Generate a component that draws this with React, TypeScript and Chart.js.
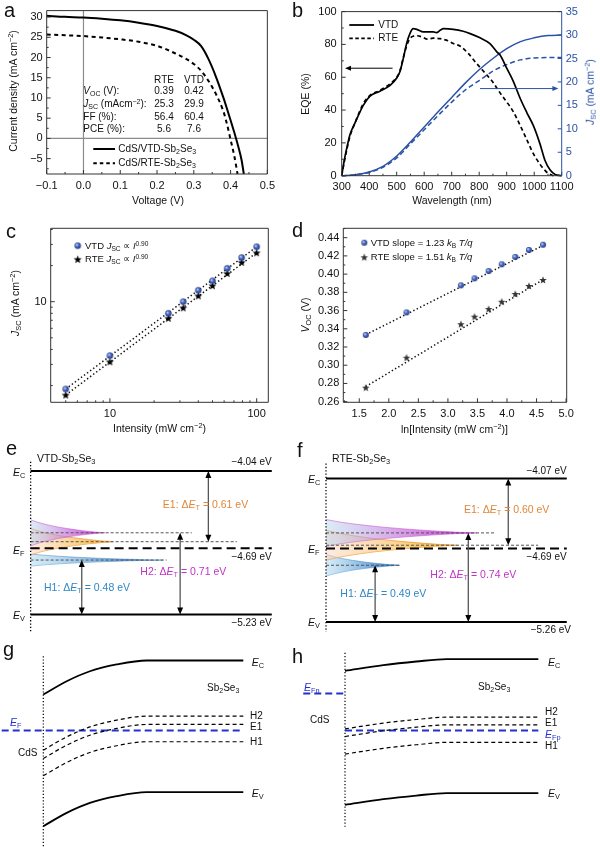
import React, { useEffect, useRef } from 'react';
import { Chart, registerables } from 'chart.js';

Chart.register(...registerables);

const FONT = '"Liberation Sans", Arial, Helvetica, sans-serif';
Chart.defaults.font.family = FONT;
Chart.defaults.color = '#111';

// ================= DATA =================
// ---- Panel a: J–V curves ----
const aTicksX = [-0.1, 0, 0.1, 0.2, 0.3, 0.4, 0.5];
const aMinorX = [-0.05, 0.05, 0.15, 0.25, 0.35, 0.45];
const aTicksY = [-5, 0, 5, 10, 15, 20, 25, 30];
const aMinorY = [-7.5, -2.5, 2.5, 7.5, 12.5, 17.5, 22.5, 27.5];
const aRangeX = [-0.1, 0.5];
const aRangeY = [-8.8, 31.6];
const aVoltVTD = [-0.1, -0.05, 0, 0.05, 0.1, 0.15, 0.2, 0.25, 0.28, 0.3, 0.32, 0.34, 0.36, 0.38, 0.39, 0.4, 0.41, 0.42, 0.43, 0.436];
const aJVTD = [30.3, 30.05, 29.9, 29.6, 29.2, 28.6, 27.8, 26.6, 25.5, 24.4, 22.8, 19.6, 15.3, 10.2, 7.4, 4.5, 1.5, -1.7, -5.4, -8.8];
const aVoltRTE = [-0.1, -0.05, 0, 0.05, 0.1, 0.15, 0.2, 0.25, 0.28, 0.3, 0.32, 0.34, 0.36, 0.38, 0.39, 0.4, 0.41, 0.419];
const aJRTE = [25.7, 25.5, 25.3, 24.95, 24.5, 23.9, 22.9, 21.0, 19.6, 18.4, 16.7, 14.2, 11.0, 6.8, 3.6, -0.3, -4.3, -8.8];

// ---- Panel b: EQE and integrated Jsc ----
const bTicksX = [300, 400, 500, 600, 700, 800, 900, 1000, 1100];
const bMinorX = [350, 450, 550, 650, 750, 850, 950, 1050];
const bTicksY = [0, 20, 40, 60, 80, 100];
const bMinorY = [10, 30, 50, 70, 90];
const bTicksY2 = [0, 5, 10, 15, 20, 25, 30, 35];
const bWlVTD = [300, 310, 320, 330, 348, 379, 403, 439, 476, 500, 512, 524, 536, 548, 560, 573, 597, 633, 645, 658, 670, 706, 742, 767, 803, 839, 864, 876, 900, 924, 948, 973, 997, 1021, 1039, 1058, 1076, 1100];
const bEqeVTD = [0, 10, 18, 25, 32, 43, 48.5, 51.5, 55, 59.5, 63.5, 71.5, 80.5, 86.6, 89.6, 89.2, 87.6, 87.6, 87.2, 88.6, 89.6, 89.2, 88, 86.6, 84, 80.5, 75.5, 73.5, 65.5, 57.5, 47.5, 38.5, 30.5, 19.4, 9.4, 3.4, 0.8, 0];
const bWlRTE = [300, 310, 320, 330, 348, 379, 403, 439, 476, 500, 512, 524, 536, 548, 560, 573, 597, 610, 633, 658, 690, 706, 730, 760, 790, 803, 827, 850, 864, 880, 900, 924, 948, 973, 997, 1021, 1033, 1050, 1070];
const bEqeRTE = [0, 9, 17, 24, 32, 44, 49, 52, 56, 60, 64, 72, 79, 83.5, 85, 85.3, 84.2, 83.2, 83.8, 83.5, 82, 80.5, 79, 74.5, 68.5, 66, 61.5, 57, 53.5, 49.5, 45, 39, 31, 22, 13.4, 7, 4.4, 1.5, 0];
const bWlJ = [300, 350, 400, 450, 500, 550, 600, 650, 700, 750, 800, 850, 900, 950, 1000, 1050, 1100];
const bJscVTD = [0, 0.2, 0.8, 2.0, 4.2, 7.2, 10.4, 13.6, 16.7, 19.8, 22.6, 25.0, 27.1, 28.6, 29.4, 29.9, 30.0];
const bJscRTE = [0, 0.2, 0.7, 1.8, 3.8, 6.8, 9.8, 12.8, 15.7, 18.3, 20.3, 22.3, 23.7, 24.7, 25.1, 25.2, 25.2];
const bArrowEQE = [485, 312, 65.5];   // x from, x to, EQE level
const bArrowJsc = [803, 1088, 53.1];  // x from, x to, level (EQE units)

// ---- Panel c: Jsc vs light intensity (log-log) ----
const intensity = [5, 10, 25, 31.6, 40, 50, 63, 79, 100];
const cJscVTD = [1.87, 3.55, 8.0, 10.0, 12.45, 14.9, 18.97, 23.3, 28.7];
const cJscRTE = [1.67, 3.16, 7.28, 8.9, 11.2, 13.6, 17.2, 21.3, 25.6];
const cFitI = [5, 100];
const cFitVTD = [1.87, 28.7];
const cFitRTE = [1.67, 25.6];
const cTicksX = [10, 100];
const cMinorX = [5, 6, 7, 8, 9, 20, 30, 40, 50, 60, 70, 80, 90];
const cTicksY = [10];
const cMinorY = [2, 3, 4, 5, 6, 7, 8, 9, 20, 30, 40];

// ---- Panel d: Voc vs ln(intensity) ----
const lnI = [1.61, 2.3, 3.22, 3.45, 3.69, 3.91, 4.14, 4.37, 4.61];
const dVocVTD = [0.3332, 0.358, 0.3877, 0.3954, 0.4034, 0.4108, 0.4188, 0.4265, 0.4323];
const dVocRTE = [0.2754, 0.3083, 0.345, 0.3533, 0.3617, 0.3697, 0.3782, 0.387, 0.3936];
const dFitX = [1.61, 4.61];
const dFitVTD = [0.3335, 0.4315];
const dFitRTE = [0.2765, 0.394];
const dTicksX = [1.5, 2.0, 2.5, 3.0, 3.5, 4.0, 4.5, 5.0];
const dMinorX = [1.25, 1.75, 2.25, 2.75, 3.25, 3.75, 4.25, 4.75];
const dTicksY = [0.26, 0.28, 0.3, 0.32, 0.34, 0.36, 0.38, 0.4, 0.42, 0.44];
const dMinorY = [0.27, 0.29, 0.31, 0.33, 0.35, 0.37, 0.39, 0.41, 0.43, 0.45];

// ---- Panels e / f: trap levels (eV) ----
// bands: [E_C, E_F, E_V]; traps: [H2, E1, H1]
const eBands = [-4.04, -4.682, -5.23];
const fBands = [-4.07, -4.65, -5.26];
const eTraps = [-4.553, -4.627, -4.779];
const fTraps = [-4.521, -4.623, -4.789];
const eTrapEnd = [0.668, 0.855, 0.564];
const fTrapEnd = [0.702, 0.881, 0.307];
const eShapeLen = [0.308, 0.342, 0.55];
const fShapeLen = [0.626, 0.543, 0.307];
const eShapeW = [0.108, 0.11, 0.05];
const fShapeW = [0.111, 0.124, 0.09];
const eArrowX = [0.62, 0.737, 0.212];
const fArrowX = [0.591, 0.757, 0.204];
const eDotted = [-3.964, -5.384];
const fDotted = [-3.946, -5.342];
const shapeT = [0, 0.1, 0.22, 0.36, 0.52, 0.7, 0.86, 1];
const shapeP = [1, 0.8, 0.62, 0.45, 0.3, 0.16, 0.06, 0];
const efRangeE = [-5.45, -3.9];
const eRangeX = [-0.127, 1.117];
const fRangeX = [-0.108, 1.138];

// ---- Panels g / h: band bending (eV) ----
// levels: [E_C, H2, E1, H1, E_V]
const gLevels = [-4.04, -4.543, -4.618, -4.774, -5.23];
const hLevels = [-4.07, -4.585, -4.653, -4.809, -5.26];
const gEF = -4.672;
const gEFx = [-0.208, 1.0];
const hEFn = -4.375;
const hEFnX = [-0.216, 0];
const hEFp = -4.703;
const hEFpX = [0, 1.0];
const gBendX = [0, 0.117, 0.233, 0.367, 0.517, 1];
const gBend = [-0.307, -0.187, -0.097, -0.036, 0, 0];
const hBendX = [0, 0.198, 0.369, 0.526, 1];
const hBend = [-0.104, -0.053, -0.021, 0, 0];
const gDotted = [-4.001, -5.725];
const hDotted = [-4.014, -5.568];
const gRangeX = [-0.2165, 1.2835];
const gRangeE = [-5.725, -3.9];
const hRangeX = [-0.2328, 1.319];
const hRangeE = [-5.738, -3.9];

// ================= HELPERS =================
const zip = (xs: number[], ys: number[]) => xs.map((x, i) => ({ x, y: ys[i] }));

function line(pts: any[], color: string, width: number, dash: number[] = [], extra: any = {}) {
  return { data: pts, borderColor: color, backgroundColor: color, borderWidth: width, borderDash: dash, pointRadius: 0, fill: false, tension: 0, clip: false, ...extra };
}

const fmtMinus = (d: number) => (v: number) => (v < 0 ? '\u2212' : '') + Math.abs(v).toFixed(d);

function axis(o: any) {
  const horiz = o.pos === 'top' || o.pos === 'bottom';
  return {
    type: o.type || 'linear',
    position: o.pos,
    min: o.min,
    max: o.max,
    grid: { display: false, drawTicks: false },
    border: { display: false },
    ticks: {
      autoSkip: false, maxRotation: 0, minRotation: 0, padding: o.pad,
      color: o.color || '#111', font: { size: 11, family: FONT },
      callback: (v: number) => o.fmt(v),
    },
    afterBuildTicks: (s: any) => { s.ticks = o.ticks.map((v: number) => ({ value: v })); },
    afterFit: (s: any) => { if (horiz) s.height = o.size; else s.width = o.size; },
  };
}

function baseOpts(padding: any, scales: any) {
  return {
    responsive: false, maintainAspectRatio: false, animation: false, devicePixelRatio: 1, events: [],
    layout: { padding, autoPadding: false },
    plugins: { legend: { display: false }, tooltip: { enabled: false }, title: { display: false } },
    scales,
  };
}

function framePlugin(sides: any, ticks: any[]) {
  return {
    id: 'frame',
    afterDatasetsDraw(chart: any) {
      const { ctx, chartArea: a } = chart;
      ctx.save();
      ctx.lineWidth = 1;
      ctx.setLineDash([]);
      const seg = (x1: number, y1: number, x2: number, y2: number, c: string) => {
        ctx.strokeStyle = c; ctx.beginPath(); ctx.moveTo(x1, y1); ctx.lineTo(x2, y2); ctx.stroke();
      };
      for (const t of ticks) {
        const sc = chart.scales[t.ax];
        for (const v of t.v) {
          const p = sc.getPixelForValue(v);
          const c = t.color || '#333';
          if (t.side === 'b') seg(p, a.bottom, p, a.bottom - t.len, c);
          else if (t.side === 'l') seg(a.left, p, a.left + t.len, p, c);
          else seg(a.right, p, a.right - t.len, p, c);
        }
      }
      seg(a.left, a.top, a.right, a.top, sides.t);
      seg(a.left, a.bottom, a.right, a.bottom, sides.b);
      seg(a.left, a.top, a.left, a.bottom, sides.l);
      seg(a.right, a.top, a.right, a.bottom, sides.r);
      ctx.restore();
    },
  };
}

function drawArrow(ctx: any, x1: number, y1: number, x2: number, y2: number, o: any) {
  const ang = Math.atan2(y2 - y1, x2 - x1);
  const c = Math.cos(ang), s = Math.sin(ang);
  const hl = o.hl, hw = o.hw;
  ctx.save();
  ctx.setLineDash([]);
  ctx.strokeStyle = o.color; ctx.lineWidth = o.width;
  ctx.beginPath();
  ctx.moveTo(o.both ? x1 + c * hl * 0.8 : x1, o.both ? y1 + s * hl * 0.8 : y1);
  ctx.lineTo(x2 - c * hl * 0.8, y2 - s * hl * 0.8);
  ctx.stroke();
  ctx.fillStyle = o.head || o.color;
  const head = (x: number, y: number, cx: number, sx: number) => {
    ctx.beginPath();
    ctx.moveTo(x, y);
    ctx.lineTo(x - cx * hl - sx * hw, y - sx * hl + cx * hw);
    ctx.lineTo(x - cx * hl + sx * hw, y - sx * hl - cx * hw);
    ctx.closePath(); ctx.fill();
  };
  head(x2, y2, c, s);
  if (o.both) head(x1, y1, -c, -s);
  ctx.restore();
}

function marksPlugin(spec: any) {
  return {
    id: 'marks',
    afterDatasetsDraw(chart: any) {
      const ctx = chart.ctx;
      const xs = chart.scales.x, ys = chart.scales.y;
      for (const a of spec.arrows || []) {
        drawArrow(ctx, xs.getPixelForValue(a.x1), ys.getPixelForValue(a.y1), xs.getPixelForValue(a.x2), ys.getPixelForValue(a.y2), a);
      }
      for (const s of spec.segs || []) {
        ctx.save(); ctx.strokeStyle = s.color; ctx.lineWidth = s.width; ctx.setLineDash(s.dash || []);
        ctx.beginPath(); ctx.moveTo(s.x1, s.y); ctx.lineTo(s.x2, s.y); ctx.stroke(); ctx.restore();
      }
      for (const im of spec.imgs || []) ctx.drawImage(im.img, im.x - im.img.width / 2, im.y - im.img.height / 2);
    },
  };
}

function makeSphere(r: number) {
  const c = document.createElement('canvas');
  const s = Math.ceil(2 * r + 2);
  c.width = s; c.height = s;
  const g = c.getContext('2d')!;
  const cx = s / 2, cy = s / 2;
  const grad = g.createRadialGradient(cx - r * 0.35, cy - r * 0.35, r * 0.1, cx, cy, r);
  grad.addColorStop(0, '#c4d2f4');
  grad.addColorStop(0.45, '#4d6ec4');
  grad.addColorStop(1, '#1f3584');
  g.fillStyle = grad;
  g.beginPath(); g.arc(cx, cy, r, 0, Math.PI * 2); g.fill();
  return c;
}

function makeStar(R: number, color: string) {
  const c = document.createElement('canvas');
  const s = Math.ceil(2 * R + 2);
  c.width = s; c.height = s;
  const g = c.getContext('2d')!;
  const cx = s / 2, cy = s / 2 + R * 0.08;
  g.fillStyle = color;
  g.beginPath();
  for (let i = 0; i < 10; i++) {
    const rr = i % 2 === 0 ? R : R * 0.42;
    const a = -Math.PI / 2 + (i * Math.PI) / 5;
    const px = cx + rr * Math.cos(a), py = cy + rr * Math.sin(a);
    if (i === 0) g.moveTo(px, py); else g.lineTo(px, py);
  }
  g.closePath(); g.fill();
  return c;
}

// ================= CHART CONFIGS =================
function makeA() {
  return {
    type: 'line',
    data: {
      datasets: [
        line(zip(aVoltVTD, aJVTD), '#000', 2, [], { cubicInterpolationMode: 'monotone' }),
        line(zip(aVoltRTE, aJRTE), '#000', 2, [4, 3.5], { cubicInterpolationMode: 'monotone' }),
        line([{ x: 0, y: aRangeY[0] }, { x: 0, y: aRangeY[1] }], '#8c8c8c', 1.2),
        line([{ x: aRangeX[0], y: 0 }, { x: aRangeX[1], y: 0 }], '#8c8c8c', 1.2),
      ],
    },
    options: baseOpts({ top: 7.3, right: 11.7, bottom: 0, left: 0 }, {
      x: axis({ pos: 'bottom', min: aRangeX[0], max: aRangeX[1], ticks: aTicksX, size: 36, pad: 5, fmt: fmtMinus(1) }),
      y: axis({ pos: 'left', min: aRangeY[0], max: aRangeY[1], ticks: aTicksY, size: 46.7, pad: 4, fmt: fmtMinus(0) }),
    }),
    plugins: [
      framePlugin({ t: '#333', r: '#333', b: '#333', l: '#333' }, [
        { ax: 'x', side: 'b', v: aTicksX, len: 4 }, { ax: 'x', side: 'b', v: aMinorX, len: 2 },
        { ax: 'y', side: 'l', v: aTicksY, len: 4 }, { ax: 'y', side: 'l', v: aMinorY, len: 2 },
      ]),
      marksPlugin({
        segs: [
          { x1: 93.3, x2: 115, y: 149, color: '#000', width: 2 },
          { x1: 93.3, x2: 115, y: 163.3, color: '#000', width: 2, dash: [3.5, 3] },
        ],
      }),
    ],
  };
}

const BLUE = '#2a52a6';

function makeB() {
  return {
    type: 'line',
    data: {
      datasets: [
        line(zip(bWlVTD, bEqeVTD), '#000', 1.7, [], { cubicInterpolationMode: 'monotone' }),
        line(zip(bWlRTE, bEqeRTE), '#000', 1.7, [4, 3], { cubicInterpolationMode: 'monotone' }),
        line(zip(bWlJ, bJscVTD), BLUE, 1.5, [], { yAxisID: 'y1', cubicInterpolationMode: 'monotone' }),
        line(zip(bWlJ, bJscRTE), BLUE, 1.5, [5, 3], { yAxisID: 'y1', cubicInterpolationMode: 'monotone' }),
      ],
    },
    options: baseOpts({ top: 9.3, right: 0, bottom: 0, left: 0 }, {
      x: axis({ pos: 'bottom', min: 300, max: 1100, ticks: bTicksX, size: 34.3, pad: 5, fmt: (v: number) => String(v) }),
      y: axis({ pos: 'left', min: 0, max: 100, ticks: bTicksY, size: 41.7, pad: 5, fmt: (v: number) => String(v) }),
      y1: axis({ pos: 'right', min: 0, max: 35, ticks: bTicksY2, size: 38.3, pad: 4, fmt: (v: number) => String(v), color: BLUE }),
    }),
    plugins: [
      framePlugin({ t: '#333', r: BLUE, b: '#333', l: '#333' }, [
        { ax: 'x', side: 'b', v: bTicksX, len: 4 }, { ax: 'x', side: 'b', v: bMinorX, len: 2 },
        { ax: 'y', side: 'l', v: bTicksY, len: 4 }, { ax: 'y', side: 'l', v: bMinorY, len: 2 },
        { ax: 'y1', side: 'r', v: bTicksY2, len: 4, color: BLUE },
      ]),
      marksPlugin({
        arrows: [
          { x1: bArrowEQE[0], y1: bArrowEQE[2], x2: bArrowEQE[1], y2: bArrowEQE[2], color: '#000', width: 1, hl: 6, hw: 2.5 },
          { x1: bArrowJsc[0], y1: bArrowJsc[2], x2: bArrowJsc[1], y2: bArrowJsc[2], color: BLUE, width: 1, hl: 6, hw: 2.5 },
        ],
        segs: [
          { x1: 49.3, x2: 74, y: 25, color: '#000', width: 1.8 },
          { x1: 49.3, x2: 74, y: 38.3, color: '#000', width: 1.8, dash: [3.5, 2.5] },
        ],
      }),
    ],
  };
}

function makeC() {
  const sphere = makeSphere(3.2);
  const star = makeStar(4.3, '#000');
  return {
    type: 'line',
    data: {
      datasets: [
        { data: zip(intensity, cJscVTD), showLine: false, pointStyle: sphere, pointRadius: 4, borderWidth: 0 },
        { data: zip(intensity, cJscRTE), showLine: false, pointStyle: star, pointRadius: 4, borderWidth: 0 },
        line(zip(cFitI, cFitVTD), '#111', 1.5, [1.4, 2.4]),
        line(zip(cFitI, cFitRTE), '#111', 1.5, [1.4, 2.4]),
      ],
    },
    options: baseOpts({ top: 18.3, right: 31.7, bottom: 0, left: 0 }, {
      x: axis({ type: 'logarithmic', pos: 'bottom', min: 3.95, max: 120, ticks: cTicksX, size: 37.7, pad: 5, fmt: (v: number) => String(v) }),
      y: axis({ type: 'logarithmic', pos: 'left', min: 1.45, max: 40.9, ticks: cTicksY, size: 50.7, pad: 4, fmt: (v: number) => String(v) }),
    }),
    plugins: [
      framePlugin({ t: '#333', r: '#333', b: '#333', l: '#333' }, [
        { ax: 'x', side: 'b', v: cTicksX, len: 4 }, { ax: 'x', side: 'b', v: cMinorX, len: 2 },
        { ax: 'y', side: 'l', v: cTicksY, len: 4 }, { ax: 'y', side: 'l', v: cMinorY, len: 2 },
      ]),
      marksPlugin({ imgs: [{ img: sphere, x: 77.7, y: 35.7 }, { img: star, x: 77.7, y: 49.3 }] }),
    ],
  };
}

function makeD() {
  const sphere = makeSphere(3);
  const star = makeStar(4, '#333');
  return {
    type: 'line',
    data: {
      datasets: [
        { data: zip(lnI, dVocVTD), showLine: false, pointStyle: sphere, pointRadius: 4, borderWidth: 0 },
        { data: zip(lnI, dVocRTE), showLine: false, pointStyle: star, pointRadius: 4, borderWidth: 0 },
        line(zip(dFitX, dFitVTD), '#111', 1.5, [1.4, 2.4]),
        line(zip(dFitX, dFitRTE), '#111', 1.5, [1.4, 2.4]),
      ],
    },
    options: baseOpts({ top: 18.3, right: 33.3, bottom: 0, left: 0 }, {
      x: axis({ pos: 'bottom', min: 1.23, max: 5.01, ticks: dTicksX, size: 37.7, pad: 5, fmt: (v: number) => v.toFixed(1) }),
      y: axis({ pos: 'left', min: 0.2593, max: 0.4503, ticks: dTicksY, size: 43.3, pad: 4, fmt: (v: number) => v.toFixed(2) }),
    }),
    plugins: [
      framePlugin({ t: '#333', r: '#333', b: '#333', l: '#333' }, [
        { ax: 'x', side: 'b', v: dTicksX, len: 4 }, { ax: 'x', side: 'b', v: dMinorX, len: 2 },
        { ax: 'y', side: 'l', v: dTicksY, len: 4 }, { ax: 'y', side: 'l', v: dMinorY, len: 2 },
      ]),
      marksPlugin({ imgs: [{ img: sphere, x: 64.3, y: 32.7 }, { img: star, x: 64.3, y: 47.3 }] }),
    ],
  };
}

function diagConfig(rx: number[], re: number[], datasets: any[], plugins: any[]) {
  return {
    type: 'line',
    data: { datasets },
    options: baseOpts({ top: 0, right: 0, bottom: 0, left: 0 }, {
      x: { type: 'linear', display: false, min: rx[0], max: rx[1] },
      y: { type: 'linear', display: false, min: re[0], max: re[1] },
    }),
    plugins,
  };
}

// trap shape colours: [H2 magenta, E1 orange, H1 blue] -> [left, middle, tip, edge]
const shapeCols = [
  ['rgba(175,212,236,0.45)', 'rgba(196,120,220,0.65)', 'rgba(200,40,212,0.97)', 'rgba(190,60,200,0.6)'],
  ['rgba(252,212,190,0.5)', 'rgba(250,200,120,0.7)', 'rgba(246,180,30,0.97)', 'rgba(240,150,50,0.95)'],
  ['rgba(180,220,242,0.55)', 'rgba(110,170,220,0.75)', 'rgba(25,100,185,0.97)', 'rgba(60,130,200,0.6)'],
];

function shapeDs(center: number, w0: number, len: number, cols: string[]) {
  const up = shapeT.map((t, i) => ({ x: t * len, y: center + w0 * shapeP[i] }));
  const lo = shapeT.map((t, i) => ({ x: t * len, y: center - w0 * shapeP[i] }));
  const bg = (ctx: any) => {
    const ch = ctx.chart;
    if (!ch.chartArea) return cols[1];
    const xs = ch.scales.x;
    const g = ch.ctx.createLinearGradient(xs.getPixelForValue(0), 0, xs.getPixelForValue(len), 0);
    g.addColorStop(0, cols[0]);
    g.addColorStop(0.45, cols[1]);
    g.addColorStop(1, cols[2]);
    return g;
  };
  return [
    { data: up, fill: '+1', backgroundColor: bg, borderColor: cols[3], borderWidth: 0.8, pointRadius: 0, cubicInterpolationMode: 'monotone', clip: false },
    { data: lo, fill: false, borderColor: cols[3], borderWidth: 0.8, pointRadius: 0, cubicInterpolationMode: 'monotone', clip: false },
  ];
}

function makeTrap(bands: number[], traps: number[], trapEnd: number[], shapeLen: number[], shapeW: number[], arrowX: number[], dotted: number[], rx: number[]) {
  const ds: any[] = [
    line([{ x: 0, y: bands[0] }, { x: 1, y: bands[0] }], '#000', 2),
    line([{ x: 0, y: bands[1] }, { x: 1, y: bands[1] }], '#000', 2, [9, 5]),
    line([{ x: 0, y: bands[2] }, { x: 1, y: bands[2] }], '#000', 2),
    line([{ x: 0, y: dotted[0] }, { x: 0, y: dotted[1] }], '#000', 1.3, [1.3, 2]),
  ];
  traps.forEach((t, i) => ds.push(line([{ x: 0, y: t }, { x: trapEnd[i], y: t }], '#555', 1, [3, 2])));
  traps.forEach((t, i) => ds.push(...shapeDs(t, shapeW[i], shapeLen[i], shapeCols[i])));
  const arr = { color: '#555', head: '#000', width: 1.3, hl: 7, hw: 3, both: true };
  return diagConfig(rx, efRangeE, ds, [
    marksPlugin({
      arrows: [
        { ...arr, x1: arrowX[0], y1: traps[0], x2: arrowX[0], y2: bands[2] },
        { ...arr, x1: arrowX[1], y1: bands[0], x2: arrowX[1], y2: traps[1] },
        { ...arr, x1: arrowX[2], y1: traps[2], x2: arrowX[2], y2: bands[2] },
      ],
    }),
  ]);
}

const EFBLUE = '#2430d0';

function makeBand(levels: number[], bendX: number[], bend: number[], dotted: number[], blues: any[], rx: number[], re: number[]) {
  const ds: any[] = [];
  levels.forEach((lv, i) => {
    const solid = i === 0 || i === levels.length - 1;
    ds.push(line(bendX.map((x, j) => ({ x, y: lv + bend[j] })), '#000', solid ? 1.8 : 1.2, solid ? [] : [4, 3], { cubicInterpolationMode: 'monotone' }));
  });
  blues.forEach((b) => ds.push(line([{ x: b.x[0], y: b.y }, { x: b.x[1], y: b.y }], EFBLUE, 2, [7, 4])));
  ds.push(line([{ x: 0, y: dotted[0] }, { x: 0, y: dotted[1] }], '#000', 1.2, [1.2, 2]));
  return diagConfig(rx, re, ds, []);
}

// ================= COMPONENTS =================
function ChartCanvas({ x, y, w, h, make }: { x: number; y: number; w: number; h: number; make: () => any }) {
  const ref = useRef<HTMLCanvasElement>(null);
  useEffect(() => {
    const ch = new Chart(ref.current as HTMLCanvasElement, make());
    return () => ch.destroy();
  }, []);
  return <canvas ref={ref} width={w} height={h} style={{ position: 'absolute', left: x, top: y, width: w, height: h }} />;
}

function T({ x, y, a = 'l', r = false, s = 10.5, c = '#111', children }: any) {
  const tx = a === 'l' ? '0' : a === 'c' ? '-50%' : '-100%';
  return (
    <div style={{
      position: 'absolute', left: x, top: y, whiteSpace: 'nowrap', lineHeight: 1, fontSize: s, color: c,
      transform: r ? 'translate(-50%,-50%) rotate(-90deg)' : `translate(${tx},-50%)`,
    }}>{children}</div>
  );
}
const Sb = ({ children }: any) => <span style={{ fontSize: '0.7em', verticalAlign: '-0.3em', lineHeight: 0 }}>{children}</span>;
const Sp = ({ children }: any) => <span style={{ fontSize: '0.7em', verticalAlign: '0.5em', lineHeight: 0 }}>{children}</span>;
const I = ({ children }: any) => <i>{children}</i>;
const Letter = ({ x, base, ch }: any) => (
  <div style={{ position: 'absolute', left: x, top: base - 0.8465 * 20, fontSize: 20, lineHeight: '20px' }}>{ch}</div>
);
const SbSe = () => <>Sb<Sb>2</Sb>Se<Sb>3</Sb></>;
const unit = <>(mA cm<Sp>−2</Sp>)</>;

export default function App() {
  useEffect(() => { document.body.style.margin = '0'; }, []);
  return (
    <div style={{ position: 'absolute', left: 0, top: 0, width: 600, height: 847, background: '#fff', fontFamily: FONT, color: '#111', overflow: 'hidden' }}>
      <ChartCanvas x={0} y={0} w={280} h={210} make={makeA} />
      <ChartCanvas x={300} y={0} w={300} h={210} make={makeB} />
      <ChartCanvas x={0} y={210} w={300} h={230} make={makeC} />
      <ChartCanvas x={300} y={210} w={300} h={230} make={makeD} />
      <ChartCanvas x={0} y={454} w={300} h={187} make={() => makeTrap(eBands, eTraps, eTrapEnd, eShapeLen, eShapeW, eArrowX, eDotted, eRangeX)} />
      <ChartCanvas x={300} y={458} w={300} h={187} make={() => makeTrap(fBands, fTraps, fTrapEnd, fShapeLen, fShapeW, fArrowX, fDotted, fRangeX)} />
      <ChartCanvas x={0} y={645} w={300} h={202} make={() => makeBand(gLevels, gBendX, gBend, gDotted, [{ x: gEFx, y: gEF }], gRangeX, gRangeE)} />
      <ChartCanvas x={300} y={640} w={300} h={207} make={() => makeBand(hLevels, hBendX, hBend, hDotted, [{ x: hEFnX, y: hEFn }, { x: hEFpX, y: hEFp }], hRangeX, hRangeE)} />

      {/* panel letters */}
      <Letter x={4} base={17} ch="a" />
      <Letter x={292} base={17} ch="b" />
      <Letter x={6} base={238} ch="c" />
      <Letter x={292} base={237} ch="d" />
      <Letter x={6} base={455} ch="e" />
      <Letter x={297} base={457} ch="f" />
      <Letter x={3} base={656} ch="g" />
      <Letter x={292} base={663} ch="h" />

      {/* panel a */}
      <T x={13} y={91} r>Current density {unit}</T>
      <T x={158} y={199.5} a="c">Voltage (V)</T>
      <T x={164} y={80} a="c" s={10}>RTE</T>
      <T x={194} y={80} a="c" s={10}>VTD</T>
      <T x={83.3} y={91} s={10}><I>V</I><Sb>OC</Sb> (V):</T>
      <T x={83.3} y={104} s={10}><I>J</I><Sb>SC</Sb> (mAcm<Sp>−2</Sp>):</T>
      <T x={83.3} y={116.5} s={10}>FF (%):</T>
      <T x={83.3} y={128.5} s={10}>PCE (%):</T>
      <T x={164} y={91} a="c" s={10}>0.39</T>
      <T x={194} y={91} a="c" s={10}>0.42</T>
      <T x={164} y={104} a="c" s={10}>25.3</T>
      <T x={194} y={104} a="c" s={10}>29.9</T>
      <T x={164} y={116.5} a="c" s={10}>56.4</T>
      <T x={194} y={116.5} a="c" s={10}>60.4</T>
      <T x={164} y={128.5} a="c" s={10}>5.6</T>
      <T x={194} y={128.5} a="c" s={10}>7.6</T>
      <T x={118.3} y={149} s={10}>CdS/VTD-<SbSe /></T>
      <T x={118.3} y={163.3} s={10}>CdS/RTE-<SbSe /></T>

      {/* panel b */}
      <T x={305} y={94} r>EQE (%)</T>
      <T x={452} y={200} a="c">Wavelength (nm)</T>
      <T x={590} y={92} r c={BLUE}><I>J</I><Sb>SC</Sb> {unit}</T>
      <T x={378.3} y={25} s={10}>VTD</T>
      <T x={378.3} y={38.3} s={10}>RTE</T>

      {/* panel c */}
      <T x={15} y={303} r><I>J</I><Sb>SC</Sb> {unit}</T>
      <T x={159.5} y={428.3} a="c">Intensity (mW cm<Sp>−2</Sp>)</T>
      <T x={85} y={245.7} s={9.5}>VTD <I>J</I><Sb>SC</Sb> ∝ <I>I</I><Sp>0.90</Sp></T>
      <T x={85} y={259.3} s={9.5}>RTE <I>J</I><Sb>SC</Sb> ∝ <I>I</I><Sp>0.90</Sp></T>

      {/* panel d */}
      <T x={305} y={315} r><I>V</I><Sb>OC</Sb> (V)</T>
      <T x={454.5} y={429.3} a="c">ln[Intensity (mW cm<Sp>−2</Sp>)]</T>
      <T x={370.7} y={242.7} s={9.5}>VTD slope = 1.23 <I>k</I><Sb>B</Sb> <I>T/q</I></T>
      <T x={370.7} y={257.3} s={9.5}>RTE slope = 1.51 <I>k</I><Sb>B</Sb> <I>T/q</I></T>

      {/* panel e */}
      <T x={37} y={458}>VTD-<SbSe /></T>
      <T x={13} y={471.5}><I>E</I><Sb>C</Sb></T>
      <T x={13} y={550}><I>E</I><Sb>F</Sb></T>
      <T x={13} y={614.5}><I>E</I><Sb>V</Sb></T>
      <T x={271.7} y={462} a="r" s={10}>−4.04 eV</T>
      <T x={271.7} y={556.7} a="r" s={10}>−4.69 eV</T>
      <T x={271.7} y={623.3} a="r" s={10}>−5.23 eV</T>
      <T x={205.5} y={504} a="c" c="#e0873a">E1: Δ<I>E</I><Sb>T</Sb> = 0.61 eV</T>
      <T x={183.3} y={570.7} a="c" c="#c232c4">H2: Δ<I>E</I><Sb>T</Sb> = 0.71 eV</T>
      <T x={87} y={587} a="c" c="#2f86c6">H1: Δ<I>E</I><Sb>T</Sb> = 0.48 eV</T>

      {/* panel f */}
      <T x={332} y={458}>RTE-<SbSe /></T>
      <T x={308} y={478.5}><I>E</I><Sb>C</Sb></T>
      <T x={308} y={548.5}><I>E</I><Sb>F</Sb></T>
      <T x={308} y={622}><I>E</I><Sb>V</Sb></T>
      <T x={566.7} y={471} a="r" s={10}>−4.07 eV</T>
      <T x={566.7} y={556.7} a="r" s={10}>−4.69 eV</T>
      <T x={571} y={630} a="r" s={10}>−5.26 eV</T>
      <T x={506.7} y={509} a="c" c="#e0873a">E1: Δ<I>E</I><Sb>T</Sb> = 0.60 eV</T>
      <T x={473.3} y={574} a="c" c="#c232c4">H2: Δ<I>E</I><Sb>T</Sb> = 0.74 eV</T>
      <T x={383.3} y={592.7} a="c" c="#2f86c6">H1: Δ<I>E</I><Sb>T</Sb> = 0.49 eV</T>

      {/* panel g */}
      <T x={251.7} y={661.7}><I>E</I><Sb>C</Sb></T>
      <T x={207} y={687.7} s={10}><SbSe /></T>
      <T x={250} y={715.5} s={10}>H2</T>
      <T x={250} y={726.5} s={10}>E1</T>
      <T x={250} y={742} s={10}>H1</T>
      <T x={251.7} y={793}><I>E</I><Sb>V</Sb></T>
      <T x={10} y={721.7} c={EFBLUE}><I>E</I><Sb>F</Sb></T>
      <T x={18} y={753.3} s={10}>CdS</T>

      {/* panel h */}
      <T x={548} y={661.7}><I>E</I><Sb>C</Sb></T>
      <T x={478} y={686.7} s={10}><SbSe /></T>
      <T x={304} y={686.7} c={EFBLUE}><I>E</I><Sb>Fn</Sb></T>
      <T x={310} y={720} s={10}>CdS</T>
      <T x={545} y={712.3} s={10}>H2</T>
      <T x={545} y={722.7} s={10}>E1</T>
      <T x={545} y={734} c={EFBLUE}><I>E</I><Sb>Fp</Sb></T>
      <T x={545} y={745.7} s={10}>H1</T>
      <T x={548} y={793.3}><I>E</I><Sb>V</Sb></T>
    </div>
  );
}
